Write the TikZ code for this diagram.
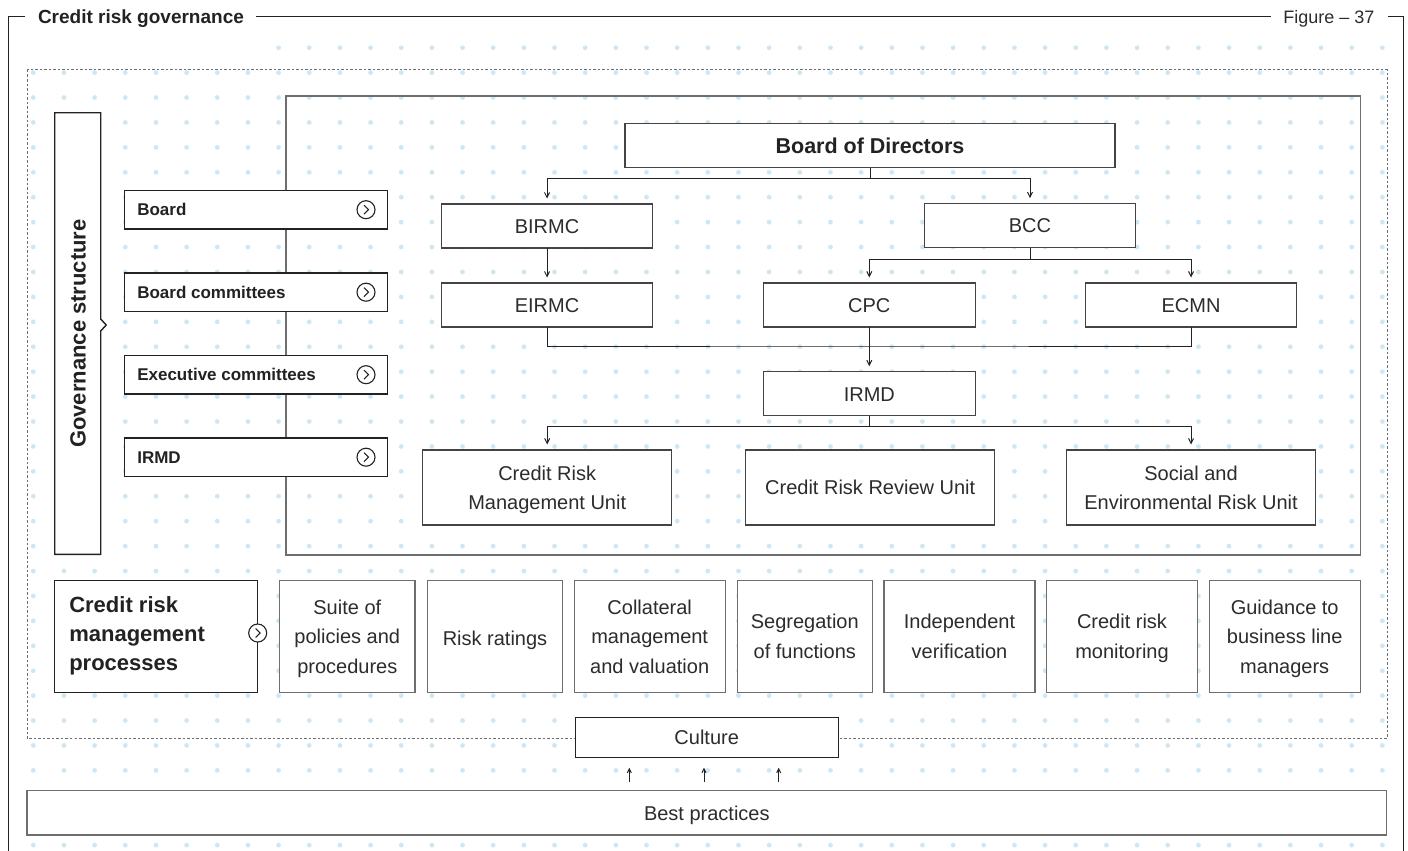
\documentclass[tikz,border=0pt]{standalone}
\usepackage{fontspec}
\setmainfont{Liberation Sans}
\usetikzlibrary{arrows.meta,calc}
\definecolor{ink}{HTML}{222222}
\definecolor{label}{HTML}{2C2C2C}
\definecolor{edge}{HTML}{444444}
\definecolor{soft}{HTML}{6E6E6E}
\definecolor{dotc}{HTML}{CFE6F4}

\begin{document}
\begin{tikzpicture}[x=1pt,y=-1pt,
  every node/.style={inner sep=0pt, outer sep=0pt, text=ink},
  oneline/.style={text height=14.4pt, text depth=0pt},
  orgbox/.style={draw=edge, line width=1.1pt, fill=white, minimum width=211.5,
    minimum height=44, text=label, font=\fontsize{20}{24}\selectfont, oneline},
  unitbox/.style={draw=edge, line width=1.1pt, fill=white, minimum width=249,
    minimum height=75, align=center, text=label, text depth=0pt,
    font=\fontsize{20}{29}\selectfont},
  procbox/.style={draw=soft, line width=1.1pt, fill=white, minimum height=112.2,
    align=center, text=label, text depth=0pt, font=\fontsize{20}{29.5}\selectfont},
  levelbox/.style={draw=ink, line width=1.4pt, fill=white, minimum width=263.4,
    minimum height=38.7},
  levellabel/.style={anchor=west, font=\fontsize{17}{20}\selectfont\bfseries},
  goicon/.style={circle, draw=ink, line width=1.1pt, fill=white, minimum size=18},
  chev/.style={draw=ink, line width=1.1pt},
  link/.style={draw=ink, line width=1pt},
  arr/.style={link, -{Straight Barb[length=5pt,width=5pt]}, shorten >=5.5pt},
]
\useasboundingbox (0,0) rectangle (1408,851);

% dotted background grid
\foreach \j in {0,...,32}{
  \foreach \i in {0,...,44}{
    \pgfmathsetmacro{\skipdot}{(\j==0 && \i<8) ? 1 : 0}
    \ifdim\skipdot pt<0.5pt
      \fill[dotc] ({33.3+30.66*\i},{47.7+24.92*\j}) circle (2.4);
    \fi
  }
}

% outer frame with title
\draw[ink, line width=1pt] (25,16.5) -- (8,16.5) -- (8,851);
\draw[ink, line width=1pt] (256,16.5) -- (1271,16.5);
\draw[ink, line width=1pt] (1388,16.5) -- (1403,16.5) -- (1403,851);
\node[anchor=base west, font=\fontsize{19}{22}\selectfont\bfseries] (title) at (38,23.5) {Credit risk governance};
\node[anchor=base west, text=label, font=\fontsize{18}{22}\selectfont] (fignum) at (1283.3,23.3) {Figure – 37};

% dashed enclosure and organisation frame
\draw[soft, line width=1pt, dash pattern=on 2.5pt off 2pt] (27,70) rectangle (1387,738);
\draw[soft, line width=1.2pt] (286,96) rectangle (1360.5,555);

% governance structure side bar
\node[minimum width=46, minimum height=441.6] (gov) at (77.7,333.5) {};
\filldraw[fill=white, draw=ink, line width=1.4pt]
  (gov.north west) -- (gov.north east) -- ($(gov.east)+(0,-14.5)$)
  -- ($(gov.east)+(5.5,-8.5)$) -- ($(gov.east)+(0,-2.5)$)
  -- (gov.south east) -- (gov.south west) -- cycle;
\node[rotate=90, font=\fontsize{22}{26}\selectfont\bfseries] (govlabel) at (78,333.5) {Governance structure};

% hierarchy levels
\foreach \nm/\yy/\txt in {board/209.7/Board, bcom/292.2/Board committees,
                          ecom/374.7/Executive committees, irmdl/457.2/IRMD}{
  \node[levelbox] (lv\nm) at (256,\yy) {};
  \node[levellabel] (lt\nm) at (137.3,\yy) {\txt};
  \node[goicon] (ic\nm) at (366,\yy) {};
  \draw[chev] ($(ic\nm)+(-2,-4.5)$) -- ($(ic\nm)+(2.5,0)$) -- ($(ic\nm)+(-2,4.5)$);
}

% organisation chart
\node[orgbox, minimum width=490, text=ink, text height=15.4pt,
  font=\fontsize{21.5}{26}\selectfont\bfseries] (bod) at (870,145.8) {Board of Directors};
\node[orgbox] (birmc) at (547,226) {BIRMC};
\node[orgbox] (bcc) at (1030,225.7) {BCC};
\node[orgbox] (eirmc) at (547,305) {EIRMC};
\node[orgbox] (cpc) at (869.3,305) {CPC};
\node[orgbox] (ecmn) at (1191,305) {ECMN};
\node[orgbox] (irmd) at (869.3,393.8) {IRMD};
\node[unitbox] (crmu) at (547.2,487.5) {Credit Risk\\Management Unit};
\node[unitbox] (crru) at (870.2,487.5) {Credit Risk Review Unit};
\node[unitbox] (seru) at (1191,487.5) {Social and\\Environmental Risk Unit};

\coordinate (busA) at (870,178.3);
\draw[link] (bod.south) -- (busA);
\draw[arr] (busA) -| (birmc.north);
\draw[arr] (busA) -| (bcc.north);
\draw[arr] (birmc.south) -- (eirmc.north);

\coordinate (busB) at (1030,259.3);
\draw[link] (bcc.south) -- (busB);
\draw[arr] (busB) -| (cpc.north);
\draw[arr] (busB) -| (ecmn.north);

\coordinate (busC) at (869.3,346);
\draw[link] (eirmc.south) |- (busC) -| (ecmn.south);
\draw[arr] (cpc.south) -- (irmd.north);

\coordinate (busD) at (869.3,426.7);
\draw[link] (irmd.south) -- (busD);
\draw[arr] (busD) -| (crmu.north);
\draw[arr] (busD) -| (seru.north);

% credit risk management processes
\node[draw=ink, line width=1.4pt, fill=white, minimum width=203, minimum height=112] (crmp) at (156.2,636.7) {};
\node[anchor=west, align=left, font=\fontsize{22}{29.3}\selectfont\bfseries] (crmplabel) at (69.3,636) {Credit risk\\management\\processes};
\node[goicon] (iccrmp) at (257.7,633) {};
\draw[chev] ($(iccrmp)+(-2,-4.5)$) -- ($(iccrmp)+(2.5,0)$) -- ($(iccrmp)+(-2,4.5)$);

\node[procbox, minimum width=135.3] (p1) at (347.3,636.4) {Suite of\\policies and\\procedures};
\node[procbox, minimum width=135.4, text height=18.6pt] (p2) at (495,636.4) {Risk ratings};
\node[procbox, minimum width=150.7] (p3) at (649.7,636.4) {Collateral\\management\\and valuation};
\node[procbox, minimum width=135] (p4) at (804.8,636.4) {Segregation\\of functions};
\node[procbox, minimum width=151] (p5) at (959.5,636.4) {Independent\\verification};
\node[procbox, minimum width=150.6] (p6) at (1122,636.4) {Credit risk\\monitoring};
\node[procbox, minimum width=150.7] (p7) at (1284.7,636.4) {Guidance to\\business line\\managers};

% culture and best practices
\node[draw=ink, line width=1.1pt, fill=white, minimum width=263.3, minimum height=39.6,
  text=label, font=\fontsize{20}{24}\selectfont, oneline] (culture) at (706.7,737.5) {Culture};
\node[draw=soft, line width=1.3pt, fill=white, minimum width=1359.7, minimum height=44.3,
  text=label, font=\fontsize{20}{24}\selectfont, oneline] (best) at (706.8,812.8) {Best practices};
\foreach \k/\xx in {1/629.3, 2/704, 3/778.7}{
  \coordinate (up\k) at (\xx,781.7);
  \draw[link, -{Straight Barb[length=4pt,width=4pt]}, shorten >=10.4pt] (up\k) -- (up\k |- culture.south);
}
\end{tikzpicture}
\end{document}
